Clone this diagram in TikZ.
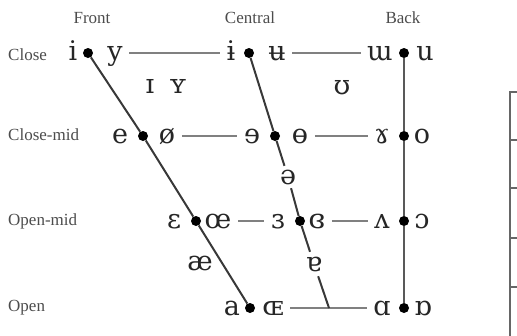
\documentclass[tikz,border=0pt]{standalone}
\usepackage{fontspec}
\setmainfont{Liberation Serif}
\newfontfamily\ipafont{DejaVu Serif}
\begin{document}
\begin{tikzpicture}[x=1pt,y=-1pt,
  dot/.style={circle,fill=black,inner sep=0pt,minimum size=10pt},
  ipa/.style={font=\ipafont\fontsize{27}{27}\selectfont,inner xsep=6.5pt,inner ysep=0pt,text height=14pt,text depth=0pt,text=black!85},
  lbl/.style={font=\fontsize{17}{17}\selectfont,text=black!70,inner sep=0pt,text height=7.8pt,text depth=0pt},
  hline/.style={draw=black!50,line width=2.6pt},
  sline/.style={draw=black!78,line width=2pt},
  tbl/.style={draw=black!60,line width=1.8pt}]
\useasboundingbox (0,0) rectangle (517,335);
% column and row labels
\node[lbl] (hfront) at (92,20) {Front};
\node[lbl] (hcentral) at (250,20) {Central};
\node[lbl] (hback) at (403,20) {Back};
\node[lbl,anchor=west] (rclose) at (8,57) {Close};
\node[lbl,anchor=west] (rclosemid) at (8,137) {Close-mid};
\node[lbl,anchor=west] (ropenmid) at (8,222) {Open-mid};
\node[lbl,anchor=west] (ropen) at (8,308) {Open};
% dots
\node[dot] (fc) at (88,53) {};
\node[dot] (fcm) at (143,136) {};
\node[dot] (fom) at (196,221) {};
\node[dot] (fo) at (250,308) {};
\node[dot] (cc) at (249,53) {};
\node[dot] (ccm) at (275,136) {};
\node[dot] (com) at (300,221) {};
\node[dot] (bc) at (404,53) {};
\node[dot] (bcm) at (404,136) {};
\node[dot] (bom) at (404,221) {};
\node[dot] (bo) at (404,308) {};
% vowels
\node[ipa] (v-i) at (73,53) {i};
\node[ipa] (v-y) at (115,53) {y};
\node[ipa] (v-ib) at (231,53) {ɨ};
\node[ipa] (v-ub) at (277,53) {ʉ};
\node[ipa] (v-m) at (380,53) {ɯ};
\node[ipa] (v-u) at (425,53) {u};
\node[ipa] (v-e) at (120,136) {e};
\node[ipa] (v-oe) at (167,136) {ø};
\node[ipa] (v-re) at (252,136) {ɘ};
\node[ipa] (v-ob) at (300,136) {ɵ};
\node[ipa] (v-ram) at (382,136) {ɤ};
\node[ipa] (v-o) at (422,136) {o};
\node[ipa] (v-eps) at (174,221) {ɛ};
\node[ipa] (v-oel) at (218,221) {œ};
\node[ipa] (v-reps) at (278,221) {ɜ};
\node[ipa] (v-creps) at (317,221) {ɞ};
\node[ipa] (v-turnv) at (382,221) {ʌ};
\node[ipa] (v-oo) at (422,221) {ɔ};
\node[ipa] (v-a) at (232,308) {a};
\node[ipa] (v-OE) at (273,308) {ɶ};
\node[ipa] (v-alpha) at (382,308) {ɑ};
\node[ipa] (v-talpha) at (423,308) {ɒ};
\node[ipa] (v-I) at (150,86) {ɪ};
\node[ipa] (v-Y) at (178,86) {ʏ};
\node[ipa] (v-U) at (342,87) {ʊ};
\node[ipa,inner xsep=4pt,inner ysep=4pt] (v-schwa) at (288,177) {ə};
\node[ipa] (v-ae) at (200,263) {æ};
\node[ipa,inner xsep=4pt,inner ysep=5pt] (v-turna) at (314,264) {ɐ};
\coordinate (ob) at (329,308);
% horizontal lines
\draw[hline] (v-y) -- (v-ib);
\draw[hline] (v-ub) -- (v-m);
\draw[hline] (v-oe) -- (v-re);
\draw[hline] (v-ob) -- (v-ram);
\draw[hline] (v-oel) -- (v-reps);
\draw[hline] (v-creps) -- (v-turnv);
\draw[hline] (v-OE) -- (v-alpha);
% slanted and vertical lines
\draw[sline] (fc) -- (fcm) -- (fom) -- (fo);
\draw[sline] (cc) -- (ccm);
\draw[sline] (ccm) -- (v-schwa);
\draw[sline] (v-schwa) -- (com);
\draw[sline] (com) -- (v-turna);
\draw[sline] (v-turna) -- (ob);
\draw[sline,draw=black!65] (bc) -- (bcm) -- (bom) -- (bo);
% partial table at right edge
\draw[tbl] (530,92) -- (510,92) -- (510,345);
\foreach \yy in {140,188,238,287}{
  \draw[tbl] (510,\yy) -- (530,\yy);
}
\end{tikzpicture}
\end{document}
